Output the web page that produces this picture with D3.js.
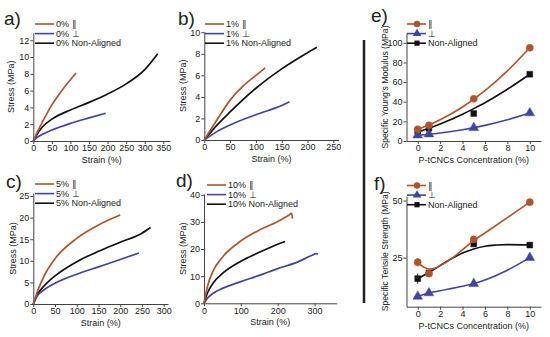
<!DOCTYPE html>
<html>
<head>
<meta charset="utf-8">
<script src="https://cdn.jsdelivr.net/npm/d3@7"></script>
<style>
body { margin: 0; background: #fff; }
text { font-family: "Liberation Sans", Arial, sans-serif; fill: #222; }
</style>
</head>
<body>
<svg id="chart" width="550" height="337"></svg>
<script>
var BROWN = "#b0532b", BLUE = "#3f45a6", BLACK = "#111";

// stress-strain curves, [strain (%), stress (MPa)]
var a_par = [[0,0],[10,1],[25,2.3],[50,4.3],[75,5.9],[100,7.3],[115,8.1]];
var a_perp = [[0,0],[10,0.4],[25,0.8],[50,1.3],[100,2.1],[150,2.75],[195,3.3]];
var a_non = [[0,0],[10,0.8],[25,1.7],[50,2.6],[100,3.7],[150,4.6],[200,5.6],[250,6.8],[300,8.5],[335,10.4]];

var b_par = [[0,0],[25,1.9],[50,3.7],[75,5.0],[100,6.0],[118,6.7]];
var b_perp = [[0,0],[25,0.8],[50,1.4],[100,2.35],[150,3.2],[165,3.55]];
var b_non = [[0,0],[25,1.4],[50,2.6],[100,4.8],[150,6.6],[200,8.1],[218,8.6]];

var c_par = [[0,0],[10,3],[25,6.5],[50,10.5],[100,15.2],[150,18.3],[200,20.6]];
var c_perp = [[0,0],[10,2],[25,3.3],[50,4.8],[100,6.9],[150,8.6],[200,10.3],[243,11.8]];
var c_non = [[0,0],[10,2.3],[25,4.2],[50,6.5],[100,9.8],[150,12.2],[200,14.3],[250,16.4],[270,17.7]];

var d_par = [[0,0],[10,6.5],[25,12],[50,17],[100,23],[150,27],[200,30.2],[230,32.5],[238,33.2],[240,31.2]];
var d_perp = [[0,0],[10,2],[25,3.7],[50,5.5],[100,8],[150,10.3],[200,12.8],[250,15],[290,17.5],[305,18.3],[309,18.1]];
var d_non = [[0,0],[10,4],[25,7.5],[50,11],[100,15.5],[150,18.8],[200,21.8],[220,22.8]];

// concentration panels
var conc = [0, 1, 5, 10];
var e_par = [12, 16, 43, 95];
var e_perp = [6, 7, 13.5, 28.5];
var e_non = [10, 13, 28, 68];
var e_parFit = [[0,12],[1,16.3],[2,21.6],[4,34.6],[6,51.2],[8,71.4],[10,95]];
var e_perpFit = [[0,6],[1,6.9],[2,8.1],[4,11.4],[6,15.9],[8,21.6],[10,28.5]];
var e_nonFit = [[0,9],[1,12.9],[2,17.3],[4,27.3],[5,33],[6,39],[8,52.7],[10,68]];

var f_par = [23, 18, 33, 49.3];
var f_perp = [8, 9.5, 13.6, 25];
var f_non = [15.8, 18.3, 31, 30.5];
var f_parErr = [1.8, 1.2, 1.5, 1.2];
var f_nonErr = [2.2, 0.8, 1, 0.6];
var f_parFit = [[0,22.8],[0.5,21],[1,20],[1.5,20.3],[2,21.5],[3,24.5],[4,28.5],[5,32.5],[6,35.8],[8,42.5],[10,49.3]];
var f_perpFit = [[0,8],[1,9.5],[2,10.5],[4,12.5],[5,13.6],[6,15.2],[8,19.5],[10,25]];
var f_nonFit = [[0,15.8],[1,18.5],[2,21.5],[3,24.5],[4,27],[5,28.8],[6,30],[7,30.5],[8,30.7],[10,30.5]];

var svg = d3.select("#chart");

function axes(g, x, y, xt, yt, xminor, yminor) {
  var x0 = y.range()[0], y0 = x.range()[0];
  var gx = g.append("g").attr("transform", "translate(0," + x0 + ")");
  gx.call(d3.axisBottom(x).tickValues(xminor).tickSize(2).tickFormat(""));
  gx.call(d3.axisBottom(x).tickValues(xt).tickSize(3).tickSizeOuter(0).tickPadding(1));
  var gy = g.append("g").attr("transform", "translate(" + y0 + ",0)");
  gy.call(d3.axisLeft(y).tickValues(yminor).tickSize(2).tickFormat(""));
  gy.call(d3.axisLeft(y).tickValues(yt).tickSize(3).tickSizeOuter(0).tickPadding(1));
  g.selectAll(".domain").attr("stroke", "#444");
  g.selectAll(".tick line").attr("stroke", "#444");
  g.selectAll(".tick text").style("font-size", "9px").attr("fill", "#222");
}

function titles(g, x, y, xt, yt, yx, size) {
  var xr = x.range(), yr = y.range();
  g.append("text").attr("x", (xr[0] + xr[1]) / 2).attr("y", yr[0] + 22)
    .attr("text-anchor", "middle").style("font-size", "9px").text(xt);
  g.append("text").attr("transform", "translate(" + yx + "," + (yr[0] + yr[1]) / 2 + ") rotate(-90)")
    .attr("text-anchor", "middle").attr("dy", "0.35em").style("font-size", size || "9px").text(yt);
}

function label(txt, x, y) {
  svg.append("text").attr("x", x).attr("y", y).style("font-size", "19px").text(txt);
}

function legend(g, lx, ly, items, marker) {
  items.forEach(function (it, i) {
    var yy = ly + i * 9.6;
    g.append("line").attr("x1", lx).attr("x2", lx + 19).attr("y1", yy).attr("y2", yy)
      .attr("stroke", it.color).attr("stroke-width", 1.6);
    if (marker) {
      g.append("path").attr("d", d3.symbol().type(it.sym).size(it.size * 0.8)())
        .attr("transform", "translate(" + (lx + 10) + "," + yy + ")").attr("fill", it.color);
    }
    g.append("text").attr("x", lx + 21).attr("y", yy).attr("dy", "0.35em")
      .style("font-size", "9px").text(it.name);
  });
}

var strainPanels = [
  { id: "a)", lab: [4, 25], xr: [33.3, 170], yr: [141, 32.7], xd: [0, 368], yd: [0, 12.9],
    xt: d3.range(0, 351, 50), yt: d3.range(0, 13, 2), xm: d3.range(25, 351, 50), ym: d3.range(1, 13, 2),
    yx: 11, leg: [35, 24], pct: "0%", data: [a_par, a_perp, a_non] },
  { id: "b)", lab: [178, 25], xr: [204.3, 338.5], yr: [140, 31.7], xd: [0, 260], yd: [0, 10.05],
    xt: d3.range(0, 251, 50), yt: d3.range(0, 11, 2), xm: d3.range(25, 251, 50), ym: d3.range(1, 11, 2),
    yx: 183, leg: [205, 24], pct: "1%", data: [b_par, b_perp, b_non] },
  { id: "c)", lab: [6, 188], xr: [33.3, 168], yr: [304, 193], xd: [0, 310], yd: [0, 25.7],
    xt: d3.range(0, 301, 50), yt: d3.range(0, 26, 5), xm: d3.range(25, 301, 50), ym: d3.range(2.5, 26, 5),
    yx: 13, leg: [35, 184], pct: "5%", data: [c_par, c_perp, c_non] },
  { id: "d)", lab: [176, 187], xr: [204, 336.7], yr: [303.3, 194], xd: [0, 360], yd: [0, 40.3],
    xt: d3.range(0, 301, 100), yt: d3.range(0, 41, 10), xm: d3.range(50, 351, 100), ym: d3.range(5, 41, 10),
    yx: 183, leg: [207, 185], pct: "10%", data: [d_par, d_perp, d_non] }
];

var colors = [BROWN, BLUE, BLACK];

strainPanels.forEach(function (p) {
  var g = svg.append("g");
  var x = d3.scaleLinear().domain(p.xd).range(p.xr);
  var y = d3.scaleLinear().domain(p.yd).range(p.yr);
  axes(g, x, y, p.xt, p.yt, p.xm, p.ym);
  titles(g, x, y, "Strain (%)", "Stress (MPa)", p.yx);
  var line = d3.line().x(function (d) { return x(d[0]); }).y(function (d) { return y(d[1]); })
    .curve(d3.curveMonotoneX);
  [2, 1, 0].forEach(function (i) {
    g.append("path").datum(p.data[i]).attr("d", line).attr("fill", "none")
      .attr("stroke", colors[i]).attr("stroke-width", 1.7);
  });
  legend(g, p.leg[0], p.leg[1], [
    { name: p.pct + " \u2225", color: BROWN },
    { name: p.pct + " \u22A5", color: BLUE },
    { name: p.pct + " Non-Aligned", color: BLACK }
  ], false);
  label(p.id, p.lab[0], p.lab[1]);
});

var concPanels = [
  { id: "e)", lab: [371, 22], yr: [141, 33], yd: [0, 110], yt: d3.range(0, 101, 20), ym: d3.range(10, 101, 20),
    title: "Specific Young's Modulus (MPa)", leg: [407, 24],
    pts: [e_par, e_perp, e_non], fits: [e_parFit, e_perpFit, e_nonFit], errs: null },
  { id: "f)", lab: [374, 190], yr: [306.7, 196], yd: [3.5, 52], yt: [25, 50], ym: [],
    title: "Specific Tensile Strength (MPa)", leg: [407, 185.5],
    pts: [f_par, f_perp, f_non], fits: [f_parFit, f_perpFit, f_nonFit], errs: [f_parErr, null, f_nonErr] }
];

var syms = [
  { sym: d3.symbolCircle, size: 40 },
  { sym: d3.symbolTriangle, size: 40 },
  { sym: d3.symbolSquare, size: 34 }
];

concPanels.forEach(function (p) {
  var g = svg.append("g");
  var x = d3.scaleLinear().domain([-1, 11]).range([406.5, 541]);
  var y = d3.scaleLinear().domain(p.yd).range(p.yr);
  axes(g, x, y, d3.range(0, 11, 2), p.yt, d3.range(1, 11, 2), p.ym);
  titles(g, x, y, "P-tCNCs Concentration (%)", p.title, 385, "8.6px");
  var line = d3.line().x(function (d) { return x(d[0]); }).y(function (d) { return y(d[1]); })
    .curve(d3.curveMonotoneX);
  [2, 1, 0].forEach(function (i) {
    g.append("path").datum(p.fits[i]).attr("d", line).attr("fill", "none")
      .attr("stroke", colors[i]).attr("stroke-width", 1.6);
    if (p.errs && p.errs[i]) {
      g.selectAll(null).data(conc).enter().append("line")
        .attr("x1", function (d) { return x(d); }).attr("x2", function (d) { return x(d); })
        .attr("y1", function (d, j) { return y(p.pts[i][j] - p.errs[i][j]); })
        .attr("y2", function (d, j) { return y(p.pts[i][j] + p.errs[i][j]); })
        .attr("stroke", colors[i]).attr("stroke-width", 1);
    }
    g.selectAll(null).data(conc).enter().append("path")
      .attr("d", d3.symbol().type(syms[i].sym).size(syms[i].size)())
      .attr("transform", function (d, j) { return "translate(" + x(d) + "," + y(p.pts[i][j]) + ")"; })
      .attr("fill", colors[i]).attr("stroke", colors[i]).attr("stroke-width", 0.5);
  });
  legend(g, p.leg[0], p.leg[1], [
    { name: "\u2225", color: BROWN, sym: syms[0].sym, size: syms[0].size },
    { name: "\u22A5", color: BLUE, sym: syms[1].sym, size: syms[1].size },
    { name: "Non-Aligned", color: BLACK, sym: syms[2].sym, size: syms[2].size }
  ], true);
  label(p.id, p.lab[0], p.lab[1]);
});

// separator between stress-strain and concentration panels
svg.append("line").attr("x1", 364).attr("x2", 364).attr("y1", 40).attr("y2", 303)
  .attr("stroke", "#222").attr("stroke-width", 2.5);
</script>
</body>
</html>
